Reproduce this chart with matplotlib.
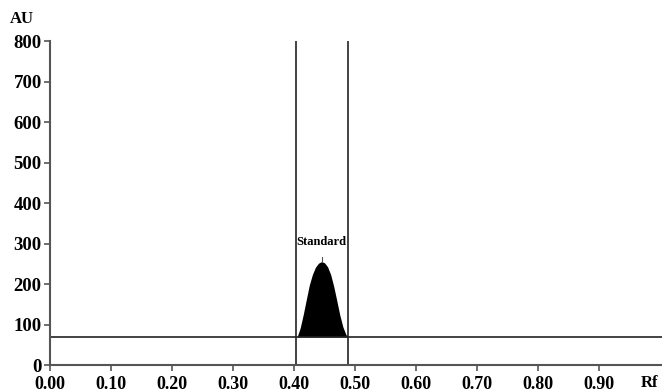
import matplotlib.pyplot as plt

# peak readings (Rf, AU)
rf_peak = [0.405, 0.410, 0.415, 0.420, 0.425, 0.430, 0.435, 0.440, 0.445, 0.450,
           0.455, 0.460, 0.465, 0.470, 0.475, 0.480, 0.485, 0.488]
au_peak = [70, 92, 125, 162, 198, 224, 242, 252, 256, 253,
           243, 224, 195, 160, 124, 95, 76, 70]

baseline = 70
window = [0.403, 0.489]
label_pos = (0.445, 305)

x_ticks = [0.0, 0.1, 0.2, 0.3, 0.4, 0.5, 0.6, 0.7, 0.8, 0.9]
y_ticks = [0, 100, 200, 300, 400, 500, 600, 700, 800]

plt.rcParams['font.family'] = ['Liberation Serif', 'DejaVu Serif']
plt.rcParams['font.weight'] = 'bold'

fig = plt.figure(figsize=(6.62, 3.92), dpi=100)
ax = fig.add_axes([0.0755, 0.068, 0.9245, 0.827])

ax.axhline(baseline, color='#222222', lw=1.2)
for w in window:
    ax.axvline(w, color='#222222', lw=1.2)
ax.fill_between(rf_peak, baseline, au_peak, color='black', lw=0)
ax.plot([0.4465, 0.4465], [258, 268], color='#555555', lw=0.8)
ax.text(label_pos[0], label_pos[1], 'Standard', ha='center', va='center',
        fontsize=9, fontweight='bold')

ax.set_xlim(0, 1.003)
ax.set_ylim(0, 800)
ax.set_xticks(x_ticks)
ax.set_xticklabels(['%.2f' % v for v in x_ticks])
ax.set_yticks(y_ticks)
ax.tick_params(labelsize=13.5, direction='out', length=4, width=1.2, color='#555555')
ax.tick_params(axis='y', pad=2)
ax.tick_params(axis='x', pad=3.5, labelsize=13)
for s in ['top', 'right']:
    ax.spines[s].set_visible(False)
for s in ['left', 'bottom']:
    ax.spines[s].set_color('#555555')
    ax.spines[s].set_linewidth(1.5)

fig.text(0.033, 0.952, 'AU', ha='center', va='center', fontsize=12, fontweight='bold')
fig.text(0.981, 0.024, 'Rf', ha='center', va='center', fontsize=12, fontweight='bold')

fig.savefig('out.png', dpi=100)
